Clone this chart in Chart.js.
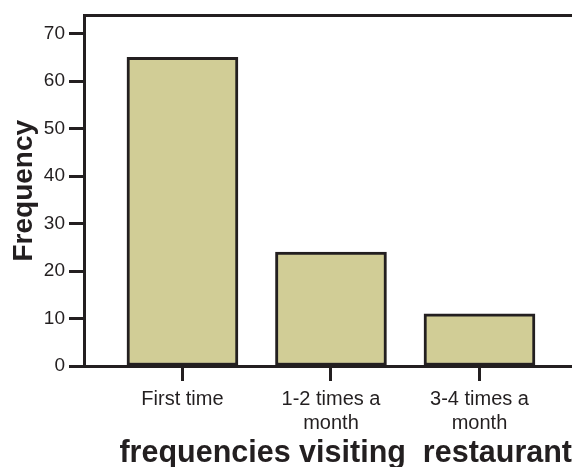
<!DOCTYPE html>
<html>
<head>
<meta charset="utf-8">
<script src="https://cdn.jsdelivr.net/npm/chart.js@4"></script>
<style>
  html, body { margin: 0; padding: 0; background: #fff; }
  #wrap { width: 572px; height: 467px; }
</style>
</head>
<body>
<div id="wrap"><canvas id="freqChart"></canvas></div>
<script>
// data
const categories = [['First time'], ['1-2 times a', 'month'], ['3-4 times a', 'month']];
const frequencies = [65, 24, 11];
const yTicks = [0, 10, 20, 30, 40, 50, 60, 70];

const ink = '#231f20';
const barFill = '#d1cd96';
const fontFamily = '"Liberation Sans", Arial, Helvetica, sans-serif';

const points = frequencies.map((v, i) => ({ x: i, y: v }));

const ctx = document.getElementById('freqChart').getContext('2d');
new Chart(ctx, {
  type: 'bar',
  data: {
    datasets: [{
      label: 'Frequency',
      data: points,
      backgroundColor: barFill,
      borderColor: ink,
      borderWidth: 3,
      borderSkipped: false,
      barThickness: 111
    }]
  },
  options: {
    responsive: true,
    maintainAspectRatio: false,
    animation: false,
    layout: { padding: 0 },
    plugins: {
      legend: { display: false },
      tooltip: { enabled: false }
    },
    scales: {
      x: {
        type: 'linear',
        position: 'bottom',
        offset: false,
        min: -0.663,
        max: 2.623,
        afterBuildTicks: (scale) => {
          scale.ticks = categories.map((c, i) => ({ value: i }));
        },
        afterFit: (scale) => { scale.height = 101; },
        ticks: {
          autoSkip: false,
          maxRotation: 0,
          padding: 6,
          color: ink,
          font: { family: fontFamily, size: 20, lineHeight: 1.2 },
          callback: (value) => categories[value]
        },
        grid: {
          offset: false,
          drawOnChartArea: false,
          drawTicks: true,
          tickLength: 15,
          tickWidth: 3,
          tickColor: ink
        },
        border: { display: true, color: ink, width: 3 },
        title: {
          display: true,
          text: 'frequencies visiting  restaurant',
          align: 'end',
          color: ink,
          font: { family: fontFamily, size: 30.5, weight: 'bold', lineHeight: 1 },
          padding: { top: 0, bottom: -2 }
        }
      },
      xTop: {
        type: 'linear',
        position: 'top',
        offset: false,
        min: 0,
        max: 1,
        afterFit: (scale) => { scale.height = 13; },
        ticks: { display: false },
        grid: { drawOnChartArea: false, drawTicks: false },
        border: { display: true, color: ink, width: 3 }
      },
      y: {
        min: 0,
        max: 73.83,
        afterBuildTicks: (scale) => {
          scale.ticks = yTicks.map(v => ({ value: v }));
        },
        afterFit: (scale) => { scale.width = 84; },
        ticks: {
          padding: 4,
          color: ink,
          font: { family: fontFamily, size: 19 }
        },
        grid: {
          drawOnChartArea: false,
          drawTicks: true,
          tickLength: 15,
          tickWidth: 3,
          tickColor: ink
        },
        border: { display: true, color: ink, width: 3 },
        title: {
          display: true,
          text: 'Frequency',
          color: ink,
          font: { family: fontFamily, size: 28, weight: 'bold', lineHeight: 1 },
          padding: { top: 10, bottom: 0 }
        }
      }
    }
  }
});
</script>
</body>
</html>
